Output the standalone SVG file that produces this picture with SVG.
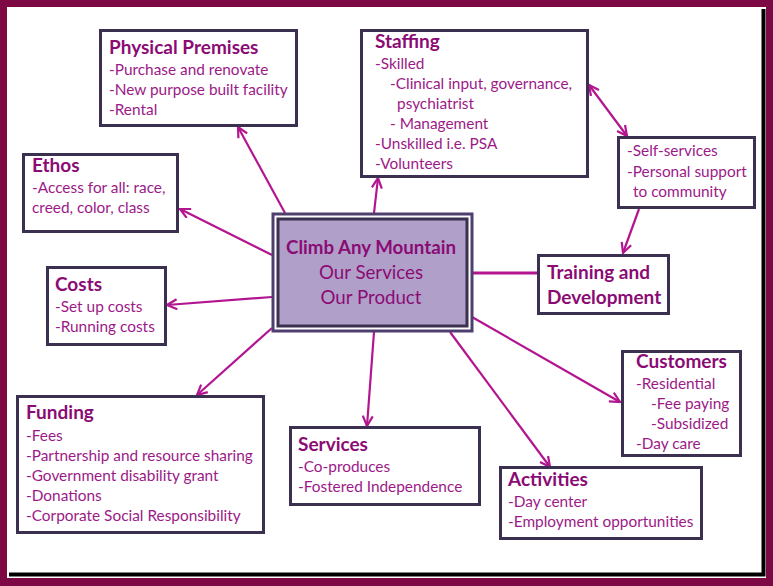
<svg xmlns="http://www.w3.org/2000/svg" width="773" height="586" viewBox="0 0 773 586">
<defs>
<style>
.box{fill:#ffffff;stroke:#3b3050;stroke-width:3}
.t{font-family:Lato,"Open Sans","Liberation Sans",sans-serif;font-weight:bold;font-size:19px;fill:#8b0b74}
.b{font-family:Lato,"Open Sans","Liberation Sans",sans-serif;font-size:15.4px;fill:#9c1a88}
.c{font-family:Lato,"Open Sans","Liberation Sans",sans-serif;font-size:18.7px;fill:#8b0b74;text-anchor:middle}
.ln{stroke:#b3148f;stroke-width:2.2;fill:none}
</style>
<marker id="ah" viewBox="0 0 12 12" refX="11" refY="6" markerWidth="12" markerHeight="12" markerUnits="userSpaceOnUse" orient="auto-start-reverse">
<path d="M1,1 L11,6 L1,11" fill="none" stroke="#b3148f" stroke-width="2.2"/>
</marker>
</defs>
<rect x="0" y="0" width="773" height="586" fill="#7d0844"/>
<rect x="7" y="7" width="759" height="571" fill="#ffffff"/>
<path d="M763.5,9 V574.5 H9" fill="none" stroke="#000000" stroke-width="4"/>

<g id="connectors">
<line class="ln" x1="285" y1="213" x2="238" y2="127" marker-end="url(#ah)"/>
<line class="ln" x1="272" y1="255" x2="180" y2="209" marker-end="url(#ah)"/>
<line class="ln" x1="272" y1="297" x2="167" y2="305" marker-end="url(#ah)"/>
<line class="ln" x1="272" y1="328" x2="197" y2="395" marker-end="url(#ah)"/>
<line class="ln" x1="374" y1="213" x2="378" y2="178" marker-end="url(#ah)"/>
<line class="ln" x1="589" y1="85" x2="627" y2="136" marker-start="url(#ah)" marker-end="url(#ah)"/>
<line class="ln" x1="639" y1="209" x2="623" y2="253" marker-end="url(#ah)"/>
<line x1="473" y1="273" x2="538" y2="273" stroke="#b3148f" stroke-width="3"/>
<line class="ln" x1="472" y1="317" x2="620" y2="402" marker-end="url(#ah)"/>
<line class="ln" x1="450" y1="332" x2="550" y2="467" marker-end="url(#ah)"/>
<line class="ln" x1="374" y1="332" x2="367" y2="426" marker-end="url(#ah)"/>
</g>

<g id="center">
<rect x="273" y="214" width="199" height="117" fill="#ffffff" stroke="#4e3f6e" stroke-width="3"/>
<rect x="278" y="219" width="189" height="107" fill="#b09fc9" stroke="#3b3050" stroke-width="3"/>
<text class="c" x="371" y="254" font-weight="bold">Climb Any Mountain</text>
<text class="c" x="371" y="279">Our Services</text>
<text class="c" x="371" y="304">Our Product</text>
</g>

<g id="physical-premises">
<rect class="box" x="100.5" y="30.5" width="196" height="95"/>
<text class="t" x="109" y="54">Physical Premises</text>
<text class="b" x="109" y="75">-Purchase and renovate</text>
<text class="b" x="109" y="95">-New purpose built facility</text>
<text class="b" x="109" y="115">-Rental</text>
</g>

<g id="staffing">
<rect class="box" x="361.5" y="30.5" width="226" height="146"/>
<text class="t" x="375" y="48">Staffing</text>
<text class="b" x="375" y="69">-Skilled</text>
<text class="b" x="390" y="89">-Clinical input, governance,</text>
<text class="b" x="397" y="109">psychiatrist</text>
<text class="b" x="390" y="129">- Management</text>
<text class="b" x="375" y="149">-Unskilled i.e. PSA</text>
<text class="b" x="375" y="169">-Volunteers</text>
</g>

<g id="self-services">
<rect class="box" x="618.5" y="137.5" width="136" height="70"/>
<text class="b" x="627" y="156">-Self-services</text>
<text class="b" x="627" y="177">-Personal support</text>
<text class="b" x="633" y="197">to community</text>
</g>

<g id="training">
<rect class="box" x="538.5" y="255.5" width="130" height="58"/>
<text class="t" x="547" y="279">Training and</text>
<text class="t" x="547" y="304">Development</text>
</g>

<g id="ethos">
<rect class="box" x="23.5" y="154.5" width="154" height="77"/>
<text class="t" x="32" y="172">Ethos</text>
<text class="b" x="32" y="193">-Access for all: race,</text>
<text class="b" x="32" y="213">creed, color, class</text>
</g>

<g id="costs">
<rect class="box" x="47.5" y="267.5" width="118" height="77"/>
<text class="t" x="55" y="291">Costs</text>
<text class="b" x="55" y="312">-Set up costs</text>
<text class="b" x="55" y="332">-Running costs</text>
</g>

<g id="funding">
<rect class="box" x="17.5" y="396.5" width="246" height="136"/>
<text class="t" x="26" y="419">Funding</text>
<text class="b" x="26" y="441">-Fees</text>
<text class="b" x="26" y="461">-Partnership and resource sharing</text>
<text class="b" x="26" y="481">-Government disability grant</text>
<text class="b" x="26" y="501">-Donations</text>
<text class="b" x="26" y="521">-Corporate Social Responsibility</text>
</g>

<g id="services">
<rect class="box" x="290.5" y="427.5" width="189" height="77"/>
<text class="t" x="298" y="451">Services</text>
<text class="b" x="298" y="472">-Co-produces</text>
<text class="b" x="298" y="492">-Fostered Independence</text>
</g>

<g id="customers">
<rect class="box" x="622.5" y="351.5" width="118" height="104"/>
<text class="t" x="636" y="368">Customers</text>
<text class="b" x="636" y="389">-Residential</text>
<text class="b" x="651" y="409">-Fee paying</text>
<text class="b" x="651" y="429">-Subsidized</text>
<text class="b" x="636" y="449">-Day care</text>
</g>

<g id="activities">
<rect class="box" x="500.5" y="467.5" width="201" height="71"/>
<text class="t" x="508" y="486">Activities</text>
<text class="b" x="508" y="507">-Day center</text>
<text class="b" x="508" y="527">-Employment opportunities</text>
</g>
</svg>
